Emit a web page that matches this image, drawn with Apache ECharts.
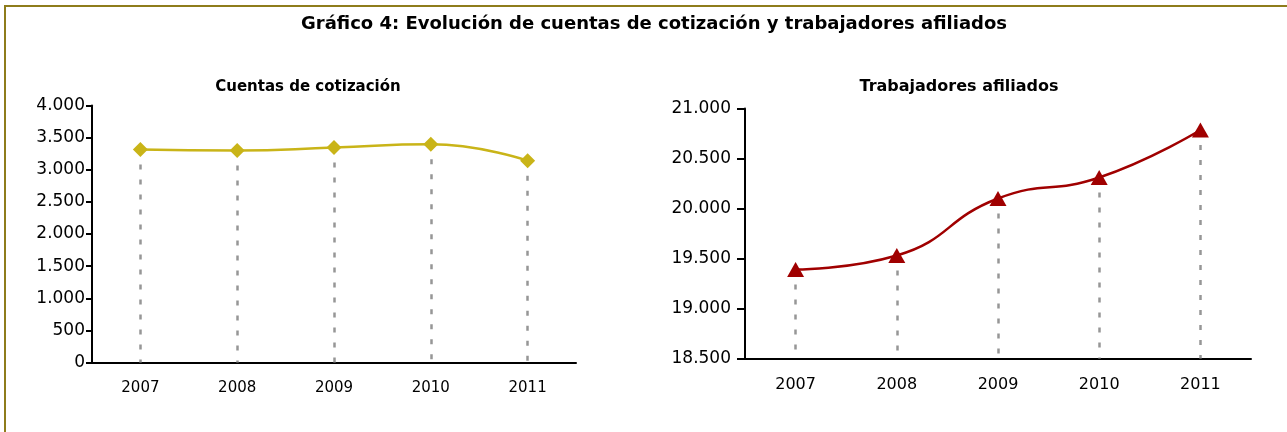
<!DOCTYPE html>
<html>
<head>
<meta charset="utf-8">
<title>Gráfico 4</title>
<script src="https://cdn.jsdelivr.net/npm/echarts@6/dist/echarts.min.js"></script>
<style>
  html, body { margin: 0; padding: 0; background: #fff; }
  #chart { width: 1287px; height: 432px; }
</style>
</head>
<body>
<div id="chart"></div>
<script>
// datos
const years = ["2007", "2008", "2009", "2010", "2011"];
const cuentas = [3315, 3300, 3345, 3395, 3140];
const afiliados = [19390, 19530, 20100, 20310, 20785];

// escalas de los ejes
const cuentasMin = 0, cuentasMax = 4000;
const afiliadosMin = 18500, afiliadosMax = 21000;
const step = 500;

const font = "DejaVu Sans";

// 4000 -> 4.000
function miles(v) {
  return String(v).replace(/\B(?=(\d{3})+(?!\d))/g, ".");
}

function dropLines(values, min) {
  return values.map((v, i) => [{ coord: [i, v] }, { coord: [i, min] }]);
}

function xAxis(idx, size) {
  return {
    type: "category",
    gridIndex: idx,
    data: years,
    boundaryGap: true,
    axisLine: { lineStyle: { color: "#000", width: 2 } },
    axisTick: { show: false },
    axisLabel: { color: "#000", fontFamily: font, fontSize: size, margin: 18 }
  };
}

function yAxis(idx, min, max, size, tick, margin) {
  return {
    type: "value",
    gridIndex: idx,
    min: min,
    max: max,
    interval: step,
    axisLine: { show: true, lineStyle: { color: "#000", width: 2 } },
    axisTick: { show: true, length: tick, lineStyle: { color: "#000", width: 2 } },
    splitLine: { show: false },
    axisLabel: {
      color: "#000",
      fontFamily: font,
      fontSize: size,
      margin: margin,
      formatter: miles
    }
  };
}

function dropSeries(idx, values, min) {
  return {
    type: "line",
    xAxisIndex: idx,
    yAxisIndex: idx,
    data: values,
    zlevel: 0,
    showSymbol: false,
    lineStyle: { opacity: 0 },
    silent: true,
    markLine: {
      silent: true,
      symbol: "none",
      label: { show: false },
      lineStyle: { color: "#969696", width: 2.5, type: [5, 10] },
      data: dropLines(values, min)
    }
  };
}

const chart = echarts.init(document.getElementById("chart"));

chart.setOption({
  backgroundColor: "#fff",
  animation: false,
  graphic: [
    {
      type: "rect",
      shape: { x: 5, y: 6, width: 1300, height: 440 },
      style: { fill: "none", stroke: "#8E7C1B", lineWidth: 2 },
      silent: true
    }
  ],
  title: [
    {
      text: "Gráfico 4: Evolución de cuentas de cotización y trabajadores afiliados",
      left: 649,
      top: 10,
      textAlign: "center",
      textStyle: { fontFamily: font, fontSize: 18, fontWeight: "bold", color: "#000" }
    },
    {
      text: "Cuentas de cotización",
      left: 303,
      top: 75,
      textAlign: "center",
      textStyle: { fontFamily: font, fontSize: 15, fontWeight: "bold", color: "#000" }
    },
    {
      text: "Trabajadores afiliados",
      left: 954,
      top: 74,
      textAlign: "center",
      textStyle: { fontFamily: font, fontSize: 16, fontWeight: "bold", color: "#000" }
    }
  ],
  grid: [
    { left: 92, top: 105.5, width: 484, height: 257 },
    { left: 745, top: 108.5, width: 506, height: 250 }
  ],
  xAxis: [xAxis(0, 15), xAxis(1, 16)],
  yAxis: [
    yAxis(0, cuentasMin, cuentasMax, 17, 6, 7),
    yAxis(1, afiliadosMin, afiliadosMax, 17, 8, 14)
  ],
  series: [
    dropSeries(0, cuentas, cuentasMin),
    {
      name: "Cuentas de cotización",
      type: "line",
      xAxisIndex: 0,
      yAxisIndex: 0,
      data: cuentas,
      zlevel: 1,
      smooth: true,
      symbol: "diamond",
      symbolSize: 15,
      itemStyle: { color: "#C9B418", borderWidth: 0, opacity: 1 },
      lineStyle: { color: "#C9B418", width: 2.5 }
    },
    dropSeries(1, afiliados, afiliadosMin),
    {
      name: "Trabajadores afiliados",
      type: "line",
      xAxisIndex: 1,
      yAxisIndex: 1,
      data: afiliados,
      zlevel: 1,
      smooth: true,
      symbol: "triangle",
      symbolSize: [17, 15],
      itemStyle: { color: "#A00000", borderWidth: 0, opacity: 1 },
      lineStyle: { color: "#A00000", width: 2.5 }
    }
  ]
});
</script>
</body>
</html>
